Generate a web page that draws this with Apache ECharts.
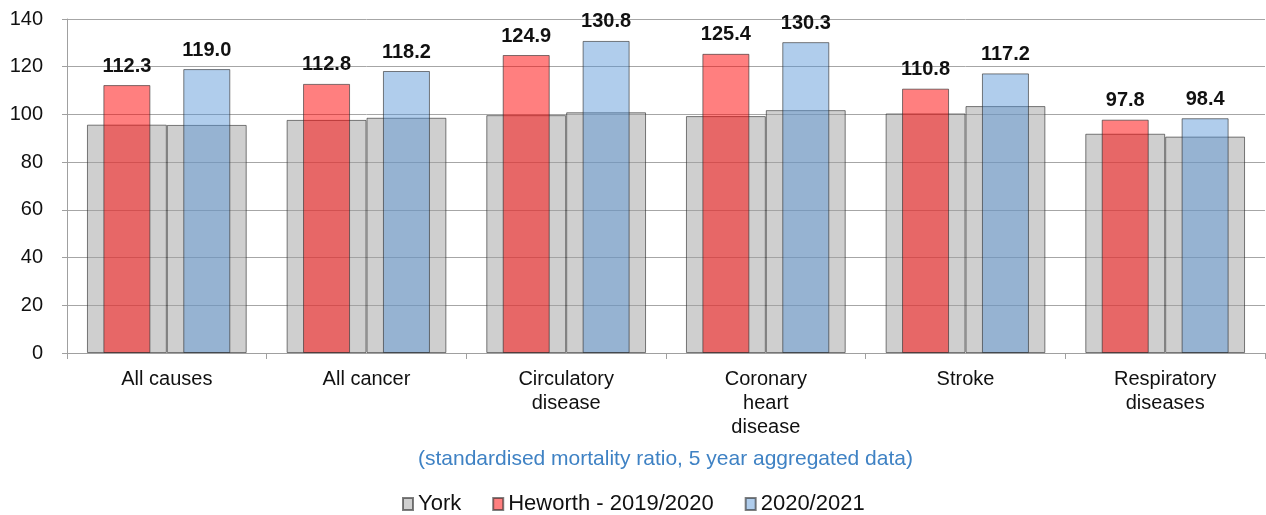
<!DOCTYPE html>
<html>
<head>
<meta charset="utf-8">
<script src="https://cdn.jsdelivr.net/npm/echarts@6/dist/echarts.min.js"></script>
<style>
  html, body { margin: 0; padding: 0; background: #ffffff; }
  #chart { width: 1266px; height: 515px; }
</style>
</head>
<body>
<div id="chart"></div>
<script>
// Standardised mortality ratios, 5 year aggregated data
const categories = ['All causes', 'All cancer', 'Circulatory\ndisease', 'Coronary\nheart\ndisease', 'Stroke', 'Respiratory\ndiseases'];
const york2019 = [95.7, 97.7, 99.7, 99.3, 100.4, 91.9];
const york2020 = [95.6, 98.6, 100.9, 101.8, 103.5, 90.7];
const heworth2019 = [112.3, 112.8, 124.9, 125.4, 110.8, 97.8];
const heworth2020 = [119.0, 118.2, 130.8, 130.3, 117.2, 98.4];
const yTicks = { min: 0, max: 140, interval: 20 };
const subtitle = '(standardised mortality ratio, 5 year aggregated data)';

const font = 'Liberation Sans, Arial, sans-serif';
const edge = 'rgba(40,40,40,0.6)';

const chart = echarts.init(document.getElementById('chart'), null, { renderer: 'canvas' });

const valueLabel = {
  show: true,
  position: 'top',
  distance: 9,
  fontFamily: font,
  fontSize: 20,
  fontWeight: 'bold',
  color: '#111',
  formatter: p => p.value.toFixed(1)
};

chart.setOption({
  animation: false,
  textStyle: { fontFamily: font },
  grid: { left: 67, right: 1, top: 19, bottom: 162, containLabel: false },
  xAxis: [
    {
      type: 'category',
      data: categories,
      axisLine: { show: true, lineStyle: { color: '#a0a0a0', width: 1 } },
      axisTick: { show: true, interval: 0, length: 6, lineStyle: { color: '#a0a0a0' } },
      axisLabel: { interval: 0, fontFamily: font, fontSize: 20, color: '#111', lineHeight: 24, margin: 14 }
    },
    { type: 'category', data: categories, show: false }
  ],
  yAxis: {
    type: 'value',
    min: yTicks.min,
    max: yTicks.max,
    interval: yTicks.interval,
    axisLine: { show: true, lineStyle: { color: '#a0a0a0', width: 1 } },
    axisTick: { show: true, length: 5, lineStyle: { color: '#a0a0a0' } },
    axisLabel: { fontFamily: font, fontSize: 20, color: '#111', margin: 24 },
    splitLine: { show: true, lineStyle: { color: '#a6a6a6', width: 1 } }
  },
  legend: {
    left: 402,
    top: 493,
    padding: 0,
    data: ['York', 'Heworth - 2019/2020', '2020/2021'],
    icon: 'rect',
    itemWidth: 10,
    itemHeight: 12,
    itemGap: 31,
    textStyle: { fontFamily: font, fontSize: 22, color: '#111' }
  },
  graphic: [{
    type: 'text',
    left: 418,
    top: 449,
    style: { text: subtitle, fontFamily: font, fontSize: 21, fill: '#3f82c4' }
  }],
  series: [
    {
      name: 'York', type: 'bar', xAxisIndex: 0, data: york2019,
      barGap: '0%', barCategoryGap: '20%',
      itemStyle: { color: 'rgba(160,160,160,0.5)', borderColor: edge, borderWidth: 1 }
    },
    {
      name: 'York', type: 'bar', xAxisIndex: 0, data: york2020,
      barGap: '0%', barCategoryGap: '20%',
      itemStyle: { color: 'rgba(160,160,160,0.5)', borderColor: edge, borderWidth: 1 }
    },
    {
      name: 'Heworth - 2019/2020', type: 'bar', xAxisIndex: 1, data: heworth2019,
      barWidth: 47, barGap: '70%',
      itemStyle: { color: 'rgba(255,0,0,0.5)', borderColor: edge, borderWidth: 1 },
      label: valueLabel
    },
    {
      name: '2020/2021', type: 'bar', xAxisIndex: 1, data: heworth2020,
      barWidth: 47, barGap: '70%',
      itemStyle: { color: 'rgba(80,145,212,0.45)', borderColor: edge, borderWidth: 1 },
      label: valueLabel
    }
  ]
});
</script>
</body>
</html>
